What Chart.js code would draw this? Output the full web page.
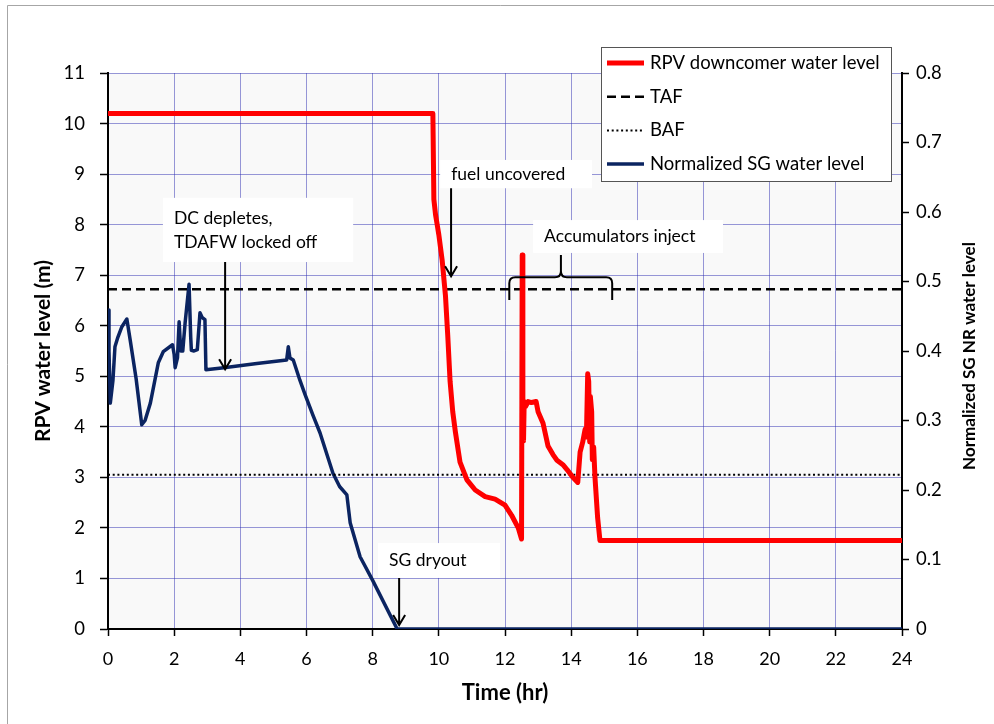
<!DOCTYPE html>
<html>
<head>
<meta charset="utf-8">
<title>RPV and SG water level</title>
<script src="https://cdn.jsdelivr.net/npm/chart.js@4.4.1/dist/chart.umd.min.js"></script>
<style>
  html, body { margin: 0; padding: 0; background: #fff; }
  canvas { display: block; }
</style>
</head>
<body>
<canvas id="levelChart" width="994" height="724"></canvas>
<script>
// RPV downcomer level (m) vs time (hr)
const rpvTime  = [0, 9.82, 9.85, 9.9, 9.95, 10.0, 10.1, 10.2, 10.27, 10.34, 10.42, 10.5, 10.64, 10.85, 11.1, 11.4, 11.7, 12.0, 12.2, 12.4, 12.5,
                  12.52, 12.54, 12.56, 12.58, 12.62, 12.7, 12.8, 12.94, 13.0, 13.15, 13.3, 13.45, 13.57, 13.75, 13.88, 14.05, 14.2,
                  14.27, 14.35, 14.42, 14.46, 14.5, 14.53, 14.56, 14.58, 14.62, 14.64, 14.68, 14.72, 14.8, 14.87, 24];
const rpvLevel = [10.2, 10.2, 8.5, 8.2, 8.0, 7.8, 7.3, 6.6, 5.8, 4.9, 4.3, 3.9, 3.3, 2.95, 2.75, 2.62, 2.57, 2.45, 2.25, 2.0, 1.78,
                  7.4, 4.0, 3.72, 4.5, 4.4, 4.5, 4.48, 4.5, 4.3, 4.07, 3.62, 3.45, 3.34, 3.25, 3.15, 3.0, 2.9,
                  3.5, 3.7, 3.95, 3.8, 5.05, 4.9, 3.7, 4.6, 4.3, 3.35, 3.6, 3.0, 2.2, 1.75, 1.75];

// normalized SG narrow range level (right axis)
const sgTime  = [0, 0.03, 0.07, 0.15, 0.21, 0.3, 0.42, 0.57, 0.67, 0.85, 1.02, 1.12, 1.28, 1.52, 1.67, 1.95, 2.0, 2.03, 2.1, 2.15,
                 2.2, 2.26, 2.33, 2.45, 2.5, 2.52, 2.6, 2.7, 2.78, 2.85, 2.93, 2.96, 3.5, 4.5, 5.4, 5.45, 5.5, 5.6, 5.8, 5.96,
                 6.2, 6.41, 6.8, 7.0, 7.22, 7.32, 7.62, 8.0, 8.74, 24];
const sgLevel = [0.459, 0.40, 0.325, 0.358, 0.406, 0.42, 0.435, 0.446, 0.416, 0.36, 0.294, 0.30, 0.325, 0.383, 0.399, 0.409, 0.395, 0.376, 0.39, 0.442,
                 0.40, 0.40, 0.44, 0.496, 0.42, 0.401, 0.40, 0.402, 0.455, 0.448, 0.445, 0.373, 0.376, 0.382, 0.387, 0.406, 0.39, 0.387, 0.358, 0.337,
                 0.307, 0.282, 0.224, 0.205, 0.193, 0.153, 0.104, 0.070, 0, 0];

// top and bottom of active fuel (m)
const tafLevel = 6.72;
const bafLevel = 3.05;

const timeTicks  = [0, 2, 4, 6, 8, 10, 12, 14, 16, 18, 20, 22, 24];
const levelTicks = [0, 1, 2, 3, 4, 5, 6, 7, 8, 9, 10, 11];
const sgTicks    = [0, 0.1, 0.2, 0.3, 0.4, 0.5, 0.6, 0.7, 0.8];

// event notes: text boxes [t0, top, t1, bottom] in hr / m
const notes = [
  { lines: ['DC depletes,', 'TDAFW locked off'], box: [1.66, 8.53, 7.41, 7.26] },
  { lines: ['fuel uncovered'], box: [10.04, 9.28, 14.63, 8.72] },
  { lines: ['Accumulators inject'], box: [12.85, 8.09, 18.59, 7.44] },
  { lines: ['SG dryout'], box: [8.16, 1.70, 11.85, 1.01] }
];
const arrows = [
  { at: 3.54, from: 7.26, to: 5.14 },
  { at: 10.37, from: 8.72, to: 6.98 },
  { at: 8.8, from: 1.01, to: 0.08 }
];
const brace = { from: 12.13, to: 15.24, tip: 13.69, level: 6.96, foot: 6.51, peak: 7.4 };

const pts = (xs, ys) => xs.map((t, i) => ({ x: t, y: ys[i] }));
const flat = v => [{ x: timeTicks[0], y: v }, { x: timeTicks[timeTicks.length - 1], y: v }];

Chart.defaults.font.family = 'Lato, "Open Sans", sans-serif';
Chart.defaults.color = '#000';

const gridBlue = 'rgba(50, 50, 180, 0.5)';

const backdrop = {
  id: 'backdrop',
  beforeDraw(chart) {
    const { ctx, chartArea: a, width, height } = chart;
    ctx.save();
    ctx.fillStyle = '#fff';
    ctx.fillRect(0, 0, width, height);
    ctx.fillStyle = '#f9f9f9';
    ctx.fillRect(a.left, a.top, a.right - a.left, a.bottom - a.top);
    ctx.strokeStyle = '#a6a6a6';
    ctx.lineWidth = 1;
    ctx.beginPath();
    ctx.moveTo(7.5, height);
    ctx.lineTo(7.5, 5.5);
    ctx.lineTo(width, 5.5);
    ctx.stroke();
    ctx.restore();
  }
};

const eventNotes = {
  id: 'eventNotes',
  afterDatasetsDraw(chart) {
    const { ctx } = chart;
    const X = v => chart.scales.x.getPixelForValue(v);
    const Y = v => chart.scales.y.getPixelForValue(v);
    ctx.save();
    ctx.font = '17.5px Lato';
    ctx.textBaseline = 'middle';
    notes.forEach(n => {
      const [t0, top, t1, bot] = n.box;
      const x0 = X(t0), y0 = Y(top), x1 = X(t1), y1 = Y(bot);
      ctx.fillStyle = '#fff';
      ctx.fillRect(x0, y0, x1 - x0, y1 - y0);
      ctx.fillStyle = '#000';
      const mid = (y0 + y1) / 2, step = 24;
      n.lines.forEach((s, i) => {
        ctx.fillText(s, x0 + 11, mid + (i - (n.lines.length - 1) / 2) * step);
      });
    });

    ctx.strokeStyle = '#000';
    ctx.lineWidth = 2;
    arrows.forEach(a => {
      const x = X(a.at), ya = Y(a.from), yb = Y(a.to);
      ctx.beginPath();
      ctx.moveTo(x, ya);
      ctx.lineTo(x, yb);
      ctx.moveTo(x - 6, yb - 10);
      ctx.lineTo(x, yb);
      ctx.lineTo(x + 6, yb - 10);
      ctx.stroke();
    });

    // curly brace over the accumulator injection window
    const bx0 = X(brace.from), bx1 = X(brace.to), bxm = X(brace.tip);
    const yl = Y(brace.level), yf = Y(brace.foot), yp = Y(brace.peak), r = 6;
    ctx.beginPath();
    ctx.moveTo(bx0, yf);
    ctx.lineTo(bx0, yl + r);
    ctx.quadraticCurveTo(bx0, yl, bx0 + r, yl);
    ctx.lineTo(bxm - r, yl);
    ctx.quadraticCurveTo(bxm, yl, bxm, yl - r);
    ctx.lineTo(bxm, yp);
    ctx.moveTo(bxm, yl - r);
    ctx.quadraticCurveTo(bxm, yl, bxm + r, yl);
    ctx.lineTo(bx1 - r, yl);
    ctx.quadraticCurveTo(bx1, yl, bx1, yl + r);
    ctx.lineTo(bx1, yf);
    ctx.stroke();
    ctx.restore();
  }
};

const insetLegend = {
  id: 'insetLegend',
  afterDraw(chart) {
    const { ctx, chartArea: a } = chart;
    const w = 290, h = 134;
    const x0 = Math.round(a.right - 301), y0 = Math.round(a.top - 26);
    ctx.save();
    ctx.fillStyle = '#fff';
    ctx.fillRect(x0, y0, w, h);
    ctx.strokeStyle = '#555';
    ctx.lineWidth = 1;
    ctx.strokeRect(x0 + 0.5, y0 + 0.5, w, h);
    ctx.font = '18.5px Lato';
    ctx.textBaseline = 'middle';
    chart.data.datasets.forEach((ds, i) => {
      const y = y0 + 16 + i * 33.7;
      ctx.strokeStyle = ds.borderColor;
      ctx.lineWidth = ds.borderWidth;
      ctx.setLineDash(ds.borderDash || []);
      ctx.beginPath();
      ctx.moveTo(x0 + 6, y);
      ctx.lineTo(x0 + 43, y);
      ctx.stroke();
      ctx.setLineDash([]);
      ctx.fillStyle = '#000';
      ctx.fillText(ds.label, x0 + 49, y);
    });

    // right axis title, reading bottom to top like the left one
    const t = chart.options.scales.y1.title;
    ctx.translate(a.right + 68, (a.top + a.bottom) / 2 + 5);
    ctx.rotate(-Math.PI / 2);
    ctx.font = 'bold 17px Lato';
    ctx.textAlign = 'center';
    ctx.fillText(t.text, 0, 0);
    ctx.restore();
  }
};

new Chart(document.getElementById('levelChart'), {
  type: 'line',
  data: {
    datasets: [
      { label: 'RPV downcomer water level', data: pts(rpvTime, rpvLevel), yAxisID: 'y',
        borderColor: '#ff0000', borderWidth: 5, borderJoinStyle: 'round' },
      { label: 'TAF', data: flat(tafLevel), yAxisID: 'y',
        borderColor: '#000', borderWidth: 2.5, borderDash: [9, 5] },
      { label: 'BAF', data: flat(bafLevel), yAxisID: 'y',
        borderColor: '#000', borderWidth: 2, borderDash: [2, 2.7] },
      { label: 'Normalized SG water level', data: pts(sgTime, sgLevel), yAxisID: 'y1',
        borderColor: '#0b2461', borderWidth: 3.5, borderJoinStyle: 'round' }
    ]
  },
  options: {
    responsive: false,
    animation: false,
    devicePixelRatio: 1,
    layout: { padding: { left: 0, right: 0, top: 73, bottom: 0 } },
    elements: { point: { radius: 0 }, line: { tension: 0 } },
    plugins: { legend: { display: false }, tooltip: { enabled: false } },
    scales: {
      x: {
        type: 'linear',
        min: timeTicks[0],
        max: timeTicks[timeTicks.length - 1],
        afterBuildTicks: s => { s.ticks = timeTicks.map(v => ({ value: v })); },
        afterFit: s => { s.height = 95; },
        grid: { color: gridBlue, lineWidth: 1, tickLength: 7, tickColor: '#000', tickWidth: 1.5 },
        border: { color: '#000', width: 2 },
        ticks: { font: { size: 18 }, padding: 12, maxRotation: 0, autoSkip: false, color: '#000' },
        title: { display: true, text: 'Time (hr)', color: '#000',
                 font: { size: 22, weight: 'bold' }, padding: { top: 0, bottom: 18 } }
      },
      y: {
        type: 'linear',
        position: 'left',
        min: levelTicks[0],
        max: levelTicks[levelTicks.length - 1],
        afterBuildTicks: s => { s.ticks = levelTicks.map(v => ({ value: v })); },
        afterFit: s => { s.width = 108; },
        grid: { color: gridBlue, lineWidth: 1, tickLength: 8, tickColor: '#000', tickWidth: 1.5 },
        border: { color: '#000', width: 2 },
        ticks: { font: { size: 18.5 }, padding: 15, color: '#000' },
        title: { display: true, text: 'RPV water level (m)', color: '#000',
                 font: { size: 21, weight: 'bold' }, padding: { top: 31, bottom: 0 } }
      },
      y1: {
        type: 'linear',
        position: 'right',
        min: sgTicks[0],
        max: sgTicks[sgTicks.length - 1],
        afterBuildTicks: s => { s.ticks = sgTicks.map(v => ({ value: v })); },
        afterFit: s => { s.width = 92; },
        grid: { drawOnChartArea: false, tickLength: 7, tickColor: '#000', tickWidth: 1.5 },
        border: { color: '#000', width: 2 },
        ticks: { font: { size: 18.5 }, padding: 7, color: '#000', callback: v => String(v) },
        title: { display: false, text: 'Normalized SG NR water level' }
      }
    }
  },
  plugins: [backdrop, eventNotes, insetLegend]
});
</script>
</body>
</html>
